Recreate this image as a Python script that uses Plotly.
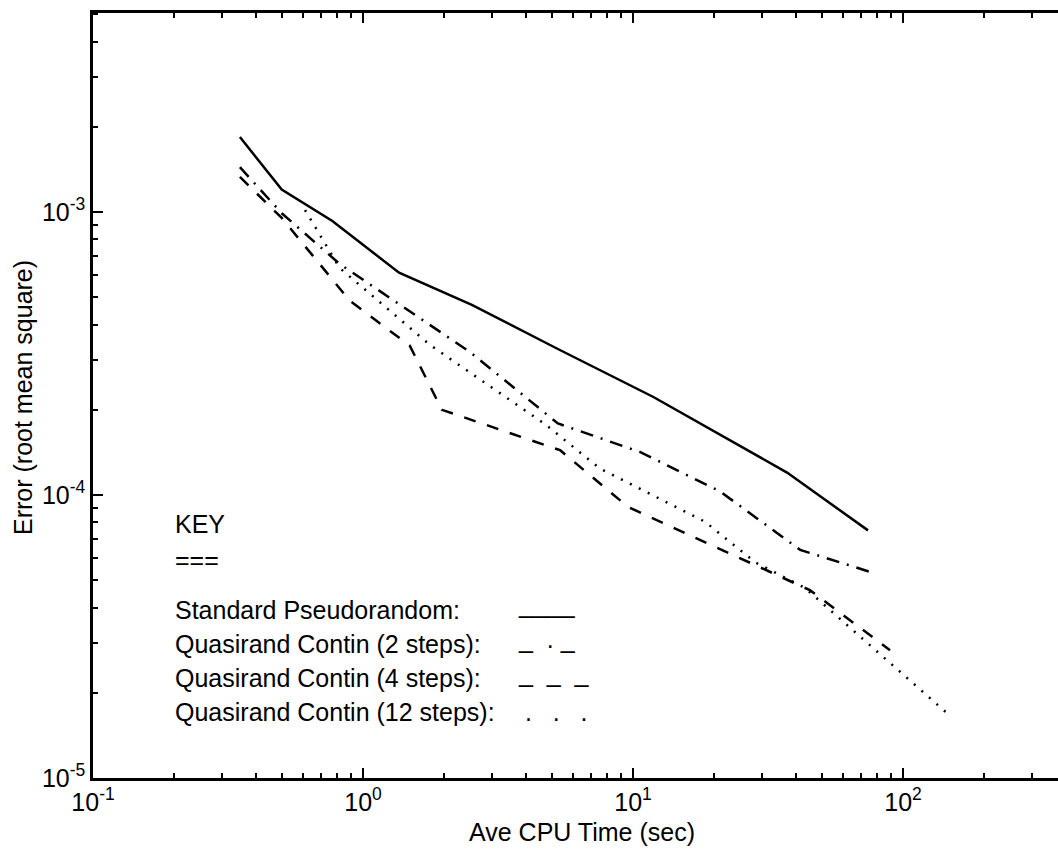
import plotly.graph_objects as go

# ---- data ----
std_x = [0.35, 0.50, 0.77, 1.36, 2.53, 5.27, 11.9, 37.2, 74.2]
std_y = [1.84e-3, 1.20e-3, 9.3e-4, 6.1e-4, 4.7e-4, 3.28e-4, 2.22e-4, 1.20e-4, 7.5e-5]

q2_x = [0.35, 0.50, 0.82, 2.49, 5.27, 10.6, 21.0, 41.6, 75.5]
q2_y = [1.44e-3, 9.9e-4, 6.55e-4, 3.2e-4, 1.79e-4, 1.42e-4, 1.03e-4, 6.4e-5, 5.35e-5]

q4_x = [0.35, 0.50, 0.895, 1.49, 1.96, 5.37, 9.58, 45.2, 89.5]
q4_y = [1.33e-3, 9.53e-4, 4.85e-4, 3.37e-4, 2.0e-4, 1.44e-4, 9.08e-5, 4.61e-5, 2.83e-5]

q12_x = [0.61, 0.82, 1.77, 4.72, 7.55, 18.5, 28.3, 43.4, 144]
q12_y = [1.016e-3, 6.34e-4, 3.39e-4, 1.78e-4, 1.24e-4, 8.04e-5, 5.79e-5, 4.69e-5, 1.71e-5]

x_tickvals = [0.1, 1, 10, 100]
x_ticktext = ["10<sup>-1</sup>", "10<sup>0</sup>", "10<sup>1</sup>", "10<sup>2</sup>"]
y_tickvals = [1e-5, 1e-4, 1e-3]
y_ticktext = ["10<sup>-5</sup>", "10<sup>-4</sup>", "10<sup>-3</sup>"]
x_minor = [m * 10.0 ** e for e in range(-1, 3) for m in range(2, 10)]
y_minor = [m * 10.0 ** e for e in range(-5, -2) for m in range(2, 10)]

key_labels = ["Standard Pseudorandom:", "Quasirand Contin (2 steps):",
              "Quasirand Contin (4 steps):", "Quasirand Contin (12 steps):"]
NB = "\u00a0"
key_samples = ["____", "_" + NB * 2 + "." + NB + "_", "_" + NB * 2 + "_" + NB * 2 + "_",
               NB + "." + NB * 3 + "." + NB * 3 + "."]
sample_shift = [6, 5, 5, 0]

FONT = "Liberation Sans, Arial, Helvetica, sans-serif"

# plot-area geometry in pixels
W, H = 1058, 850
L, R, T, B = 93, 0, 13, 72
PW, PH = W - L - R, H - T - B


def px(x):
    return (x - L) / PW


def py(y):
    return (H - B - y) / PH


fig = go.Figure()
styles = [("solid", std_x, std_y), ("13px,8px,2px,8px", q2_x, q2_y),
          ("12px,12px", q4_x, q4_y), ("2px,8px", q12_x, q12_y)]
for dash, xs, ys in styles:
    fig.add_trace(go.Scatter(x=xs, y=ys, mode="lines",
                             line=dict(color="black", width=2.5, dash=dash),
                             showlegend=False, hoverinfo="skip"))

ann = []
ann.append(dict(text="KEY", x=px(173), y=py(524)))
ann.append(dict(text="===", x=px(173), y=py(560)))
rows = [609.5, 643.5, 677.5, 711.5]
for lab, samp, yy, sh in zip(key_labels, key_samples, rows, sample_shift):
    ann.append(dict(text=lab, x=px(173), y=py(yy)))
    ann.append(dict(text=samp, x=px(516), y=py(yy), yshift=sh))
for a in ann:
    a.update(xref="paper", yref="paper", xanchor="left", yanchor="middle",
             showarrow=False, font=dict(family=FONT, size=25, color="black"))
ann.append(dict(text="Ave CPU Time (sec)", x=px(582), y=py(832), xref="paper", yref="paper",
                xanchor="center", yanchor="middle", showarrow=False,
                font=dict(family=FONT, size=25, color="black")))
ann.append(dict(text="Error (root mean square)", x=px(23), y=py(398), xref="paper", yref="paper",
                xanchor="center", yanchor="middle", showarrow=False, textangle=-90,
                font=dict(family=FONT, size=25, color="black")))

axis_common = dict(type="log", showgrid=False, zeroline=False, showline=True,
                   linecolor="black", linewidth=2.5, ticks="inside", ticklen=10,
                   tickwidth=2, tickcolor="black",
                   tickfont=dict(family=FONT, size=25, color="black"))

fig.update_layout(
    width=W, height=H,
    margin=dict(l=L, r=R, t=T, b=B, pad=0),
    paper_bgcolor="white", plot_bgcolor="white",
    showlegend=False,
    annotations=ann,
    xaxis=dict(range=[-1, -1 + PW / 270.0], tickmode="array", tickvals=x_tickvals,
               ticktext=x_ticktext, mirror="allticks",
               minor=dict(tickmode="array", tickvals=x_minor, ticks="inside", ticklen=5,
                          tickwidth=2, tickcolor="black", showgrid=False),
               **axis_common),
    yaxis=dict(range=[-5, -5 + PH / 283.0], tickmode="array", tickvals=y_tickvals,
               ticktext=y_ticktext, mirror=False,
               minor=dict(tickmode="array", tickvals=y_minor, ticks="inside", ticklen=5,
                          tickwidth=2, tickcolor="black", showgrid=False),
               **axis_common),
)

fig.write_html("out.html", config={"displayModeBar": False},
               post_script="document.body.style.margin='0';document.body.style.overflow='hidden';")
